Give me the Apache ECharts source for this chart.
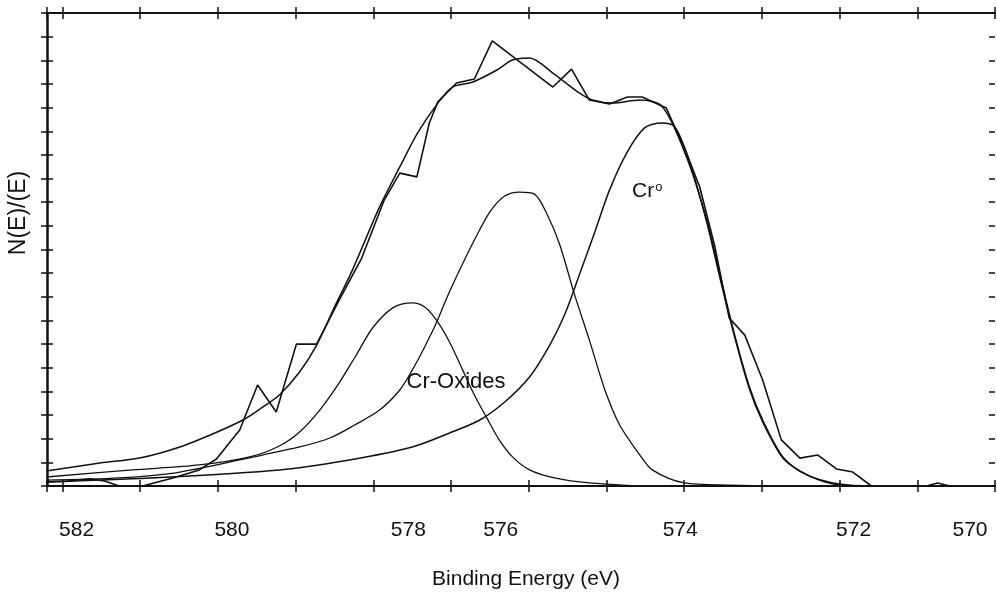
<!DOCTYPE html>
<html>
<head>
<meta charset="utf-8">
<script src="https://cdn.jsdelivr.net/npm/echarts@6/dist/echarts.min.js"></script>
<style>
  html, body { margin: 0; padding: 0; background: #fff; }
  #chart { width: 997px; height: 601px; }
</style>
</head>
<body>
<div id="chart"></div>
<script>
// Cr 2p3/2 XPS spectrum: measured counts, fitted envelope and three fitted components.

// Measured spectrum
const rawEnergy = [582.21, 581.94, 581.65, 581.46, 581.27, 580.97, 580.58, 580.24, 580.02, 579.72,
  579.49, 579.25, 578.99, 578.73, 578.44, 578.15, 577.86, 577.66, 577.44, 577.28,
  577.17, 576.93, 576.70, 576.47, 575.69, 575.45, 575.22, 574.96, 574.73, 574.54,
  574.23, 573.97, 573.80, 573.61, 573.42, 573.22, 572.99, 572.75, 572.51, 572.28,
  572.04, 571.83, 571.59, 570.88, 570.74, 570.58, 570.00];
const rawIntensity = [0.17, 0.21, 0.30, 0.21, 0.00, 0.00, 0.34, 0.68, 1.14, 2.37,
  4.27, 3.13, 6.00, 6.00, 7.86, 9.64, 12.09, 13.23, 13.07, 15.35,
  16.24, 17.04, 17.21, 18.82, 16.87, 17.63, 16.32, 16.15, 16.45, 16.45,
  15.98, 14.08, 12.64, 10.19, 7.10, 6.38, 4.48, 1.95, 1.18, 1.31,
  0.72, 0.59, 0.00, 0.00, 0.13, 0.00, 0.00];

// Sum of the fitted components
const fitEnergy = [582.21, 581.52, 581.01, 580.49, 580.04, 579.68, 579.44, 579.21, 578.95, 578.73,
  578.50, 578.27, 577.92, 577.66, 577.43, 577.17, 576.98, 576.72, 576.41, 576.21,
  575.99, 575.69, 575.35, 575.18, 574.92, 574.57, 574.28, 573.97, 573.71, 573.54,
  573.35, 573.16, 572.99, 572.73, 572.42, 572.00, 571.58, 570.00];
const fitIntensity = [0.63, 0.97, 1.18, 1.65, 2.24, 2.79, 3.30, 3.85, 4.82, 5.96,
  7.57, 9.13, 11.80, 13.49, 14.93, 16.19, 16.87, 17.08, 17.59, 18.01,
  18.10, 17.46, 16.62, 16.32, 16.19, 16.32, 16.03, 13.91, 11.25, 8.92,
  6.38, 4.19, 2.79, 1.23, 0.47, 0.08, 0.00, 0.00];

// Oxide component near 577.5 eV
const oxideAEnergy = [582.21, 581.10, 580.24, 579.59, 579.21, 578.95, 578.69, 578.44, 578.22, 578.01,
  577.75, 577.50, 577.34, 577.19, 577.02, 576.85, 576.70, 576.54, 576.38, 576.21,
  575.99, 575.67, 575.22, 574.45, 570.00];
const oxideAIntensity = [0.38, 0.68, 0.89, 1.23, 1.69, 2.28, 3.21, 4.36, 5.54, 6.68,
  7.53, 7.74, 7.57, 7.02, 6.09, 4.90, 3.85, 2.88, 1.95, 1.23,
  0.68, 0.34, 0.13, 0.00, 0.00];

// Oxide component near 576.1 eV
const oxideBEnergy = [582.21, 581.27, 580.49, 579.43, 578.95, 578.56, 578.24, 577.92, 577.66, 577.50,
  577.34, 577.19, 577.05, 576.89, 576.70, 576.50, 576.31, 576.12, 575.93, 575.76,
  575.60, 575.41, 575.22, 575.02, 574.83, 574.57, 574.41, 574.00, 573.42, 572.51, 570.00];
const oxideBIntensity = [0.25, 0.34, 0.59, 1.31, 1.65, 2.03, 2.58, 3.21, 4.06, 4.90,
  5.88, 6.89, 7.99, 9.13, 10.40, 11.59, 12.26, 12.43, 12.35, 11.46,
  10.19, 8.08, 6.17, 4.06, 2.58, 1.31, 0.68, 0.13, 0.04, 0.00, 0.00];

// Metallic chromium component near 574.3 eV
const metalEnergy = [582.21, 580.88, 579.21, 578.31, 577.50, 577.02, 576.63, 576.31, 575.99, 575.73,
  575.54, 575.35, 575.15, 574.96, 574.74, 574.51, 574.29, 574.12, 573.93, 573.71,
  573.54, 573.35, 573.16, 572.99, 572.73, 572.51, 572.26, 572.00, 571.58, 570.00];
const metalIntensity = [0.17, 0.34, 0.68, 1.10, 1.65, 2.24, 2.79, 3.55, 4.61, 5.96,
  7.23, 8.92, 10.74, 12.52, 14.08, 15.14, 15.35, 15.18, 13.70, 11.16,
  8.80, 6.30, 4.10, 2.71, 1.18, 0.63, 0.25, 0.04, 0.00, 0.00];

// Energy axis labels
const energyTickLabels = [582, 580, 578, 576, 574, 572, 570];

const pairs = (xs, ys) => xs.map((x, i) => [x, ys[i]]);

const FONT = '"Liberation Sans", Arial, sans-serif';
const INK = '#111';
const LABEL_SIZE = 21;

const X_MIN = 570, X_MAX = 582.2, Y_MIN = 0, Y_MAX = 20;

// Horizontal nudge (px) of each energy label relative to its tick
const labelNudge = { 582: 14, 580: 14, 578: 35, 576: -28, 574: -4, 572: 14, 570: -25 };
const labelRich = {};
Object.keys(labelNudge).forEach(k => {
  const d = labelNudge[k];
  labelRich['e' + k] = {
    fontFamily: FONT, fontSize: LABEL_SIZE, color: INK,
    padding: d >= 0 ? [0, 0, 0, 2 * d] : [0, -2 * d, 0, 0]
  };
});

function energyAxis(position, tickInside, showLine, showLabels) {
  return {
    type: 'value', position, min: X_MIN, max: X_MAX, interval: 1, inverse: true,
    axisLine: { show: showLine, onZero: false, lineStyle: { color: INK, width: 2 } },
    axisTick: { show: true, inside: tickInside, length: 6, lineStyle: { color: INK, width: 1.5 } },
    axisLabel: {
      show: showLabels, margin: 34, color: INK, fontFamily: FONT, fontSize: LABEL_SIZE,
      rich: labelRich,
      formatter: v => {
        const r = Math.round(v);
        return (Math.abs(v - r) < 1e-6 && energyTickLabels.includes(r)) ? '{e' + r + '|' + r + '}' : '';
      }
    },
    splitLine: { show: false }
  };
}

function intensityAxis(position, tickInside, showLine, lineWidth) {
  return {
    type: 'value', position, min: Y_MIN, max: Y_MAX, interval: 1,
    axisLine: { show: showLine, onZero: false, lineStyle: { color: INK, width: lineWidth } },
    axisTick: { show: true, inside: tickInside, length: 6, lineStyle: { color: INK, width: 1.5 } },
    axisLabel: { show: false },
    splitLine: { show: false }
  };
}

function curve(name, data, width, smooth) {
  return {
    name, type: 'line', data, xAxisIndex: 0, yAxisIndex: 0,
    showSymbol: false, smooth, silent: true, animation: false,
    lineStyle: { color: INK, width }
  };
}

const chart = echarts.init(document.getElementById('chart'), null, { renderer: 'canvas' });
chart.setOption({
  backgroundColor: '#ffffff',
  animation: false,
  grid: { left: 47, right: 2, top: 13, bottom: 115 },
  xAxis: [
    energyAxis('bottom', false, true, true),
    energyAxis('bottom', true, false, false),
    energyAxis('top', false, true, false),
    energyAxis('top', true, false, false)
  ],
  yAxis: [
    intensityAxis('left', false, true, 2.5),
    intensityAxis('left', true, false, 2.5),
    intensityAxis('right', true, false, 1)
  ],
  series: [
    curve('Measured', pairs(rawEnergy, rawIntensity), 1.6, false),
    curve('Envelope', pairs(fitEnergy, fitIntensity), 1.5, 0.3),
    curve('Cr-Oxides 577.5', pairs(oxideAEnergy, oxideAIntensity), 1.3, 0.3),
    curve('Cr-Oxides 576.1', pairs(oxideBEnergy, oxideBIntensity), 1.3, 0.3),
    curve('Cr metal', pairs(metalEnergy, metalIntensity), 1.5, 0.3)
  ],
  graphic: [
    {
      type: 'text', x: 456, y: 382,
      style: { text: 'Cr-Oxides', fill: INK, font: '22px ' + FONT, align: 'center', verticalAlign: 'middle' }
    },
    {
      type: 'text', left: 632, top: 181,
      style: {
        text: '{a|Cr}{b|o}', fill: INK,
        rich: {
          a: { fontFamily: FONT, fontSize: 21, fill: INK },
          b: { fontFamily: FONT, fontSize: 13, fill: INK, verticalAlign: 'top', padding: [0, 0, 8, 1] }
        }
      }
    },
    {
      type: 'text', x: 19, y: 213, rotation: Math.PI / 2,
      style: { text: 'N(E)/(E)', fill: INK, font: '23px ' + FONT, align: 'center', verticalAlign: 'middle' }
    },
    {
      type: 'text', x: 526, y: 579,
      style: { text: 'Binding Energy (eV)', fill: INK, font: '21px ' + FONT, align: 'center', verticalAlign: 'middle' }
    }
  ]
});
</script>
</body>
</html>
